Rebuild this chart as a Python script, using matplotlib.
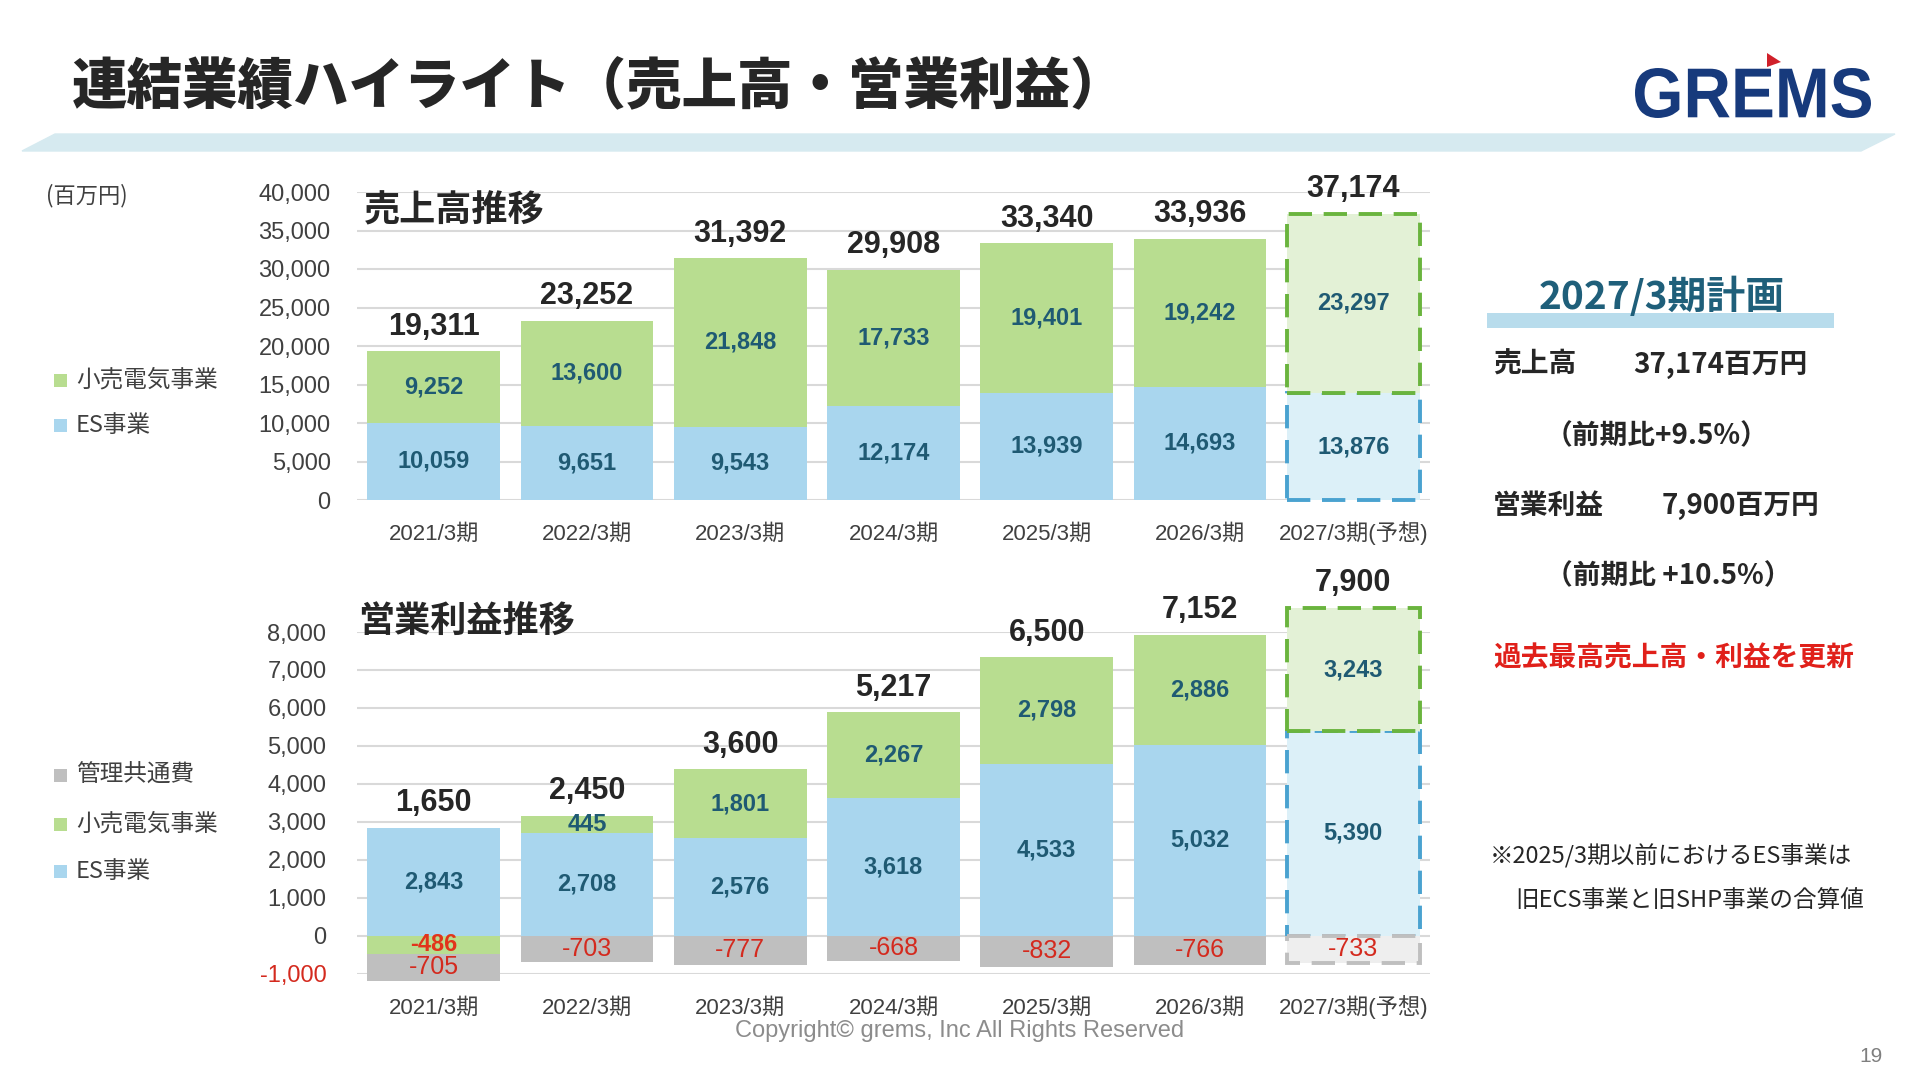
import matplotlib.pyplot as plt
from matplotlib.font_manager import FontProperties
from matplotlib.patches import PathPatch, Polygon, Rectangle
from matplotlib.textpath import TextPath
from matplotlib.ticker import FuncFormatter
from matplotlib.transforms import Affine2D

plt.rcParams['font.family'] = ['Liberation Sans', 'Noto Sans CJK JP', 'DejaVu Sans']
JP = ['Noto Sans CJK JP', 'DejaVu Sans']
NUM = ['Liberation Sans', 'Noto Sans CJK JP']

periods = ["2021/3期", "2022/3期", "2023/3期", "2024/3期", "2025/3期", "2026/3期", "2027/3期(予想)"]
forecast = [False, False, False, False, False, False, True]

# 売上高 (百万円)
sales_es = [10059, 9651, 9543, 12174, 13939, 14693, 13876]
sales_retail = [9252, 13600, 21848, 17733, 19401, 19242, 23297]
sales_total = [19311, 23252, 31392, 29908, 33340, 33936, 37174]

# 営業利益 (百万円)
op_es = [2843, 2708, 2576, 3618, 4533, 5032, 5390]
op_retail = [-486, 445, 1801, 2267, 2798, 2886, 3243]
op_admin = [-705, -703, -777, -668, -832, -766, -733]
op_total = [1650, 2450, 3600, 5217, 6500, 7152, 7900]

GREEN, BLUE, GRAY = '#b8dd90', '#a9d6ee', '#bfbfbf'
GREEN_F, BLUE_F, GRAY_F = '#e3f1d6', '#dcf0f8', '#eeeeee'
GREEN_E, BLUE_E, GRAY_E = '#6ab43e', '#4aa2d0', '#bfbfbf'
SEG_TXT = '#1f5a73'
NEG_TXT = '#d42a1e'
W = 0.865

fig = plt.figure(figsize=(19.2, 10.8), dpi=100)
PX = Affine2D().scale(1 / 1920, 1 / 1080) + fig.transFigure


def ptext(x, y, s, **kw):
    kw.setdefault('va', 'center')
    fig.text(x / 1920, 1 - y / 1080, s, **kw)


def draw_bars(ax, vals, bottoms, fill, fill_f, edge_f):
    for i, (v, b) in enumerate(zip(vals, bottoms)):
        if forecast[i]:
            ax.bar(i, v, W, bottom=b, color=fill_f, edgecolor=edge_f, linewidth=2.8,
                   linestyle=(0, (6, 3)), clip_on=False, zorder=3)
        else:
            ax.bar(i, v, W, bottom=b, color=fill, linewidth=0, clip_on=False, zorder=2)


def style_axis(ax, ticks, pad):
    for s in ax.spines.values():
        s.set_visible(False)
    ax.set_xlim(-0.5, 6.5)
    ax.set_yticks(ticks)
    ax.yaxis.set_major_formatter(FuncFormatter(lambda v, p: f"{int(v):,}"))
    ax.yaxis.grid(True, color='#d9d9d9', linewidth=1.5)
    ax.set_axisbelow(True)
    ax.tick_params(axis='y', length=0, pad=pad, labelsize=17, labelcolor='#404040')
    ax.tick_params(axis='x', length=0, pad=29)
    ax.set_xticks(range(len(periods)))
    ax.set_xticklabels(periods, fontsize=16, color='#404040', family=NUM, va='baseline')


# ---- 売上高推移 ----
ax1 = fig.add_axes([357 / 1920, 1 - 500 / 1080, 1073 / 1920, 308 / 1080])
ax1.set_ylim(0, 40000)
draw_bars(ax1, sales_es, [0] * 7, BLUE, BLUE_F, BLUE_E)
draw_bars(ax1, sales_retail, sales_es, GREEN, GREEN_F, GREEN_E)
style_axis(ax1, range(0, 40001, 5000), 19)
for i in range(7):
    ax1.text(i, sales_es[i] / 2, f"{sales_es[i]:,}", ha='center', va='center',
             fontsize=17, fontweight='bold', color=SEG_TXT, zorder=5)
    ax1.text(i, sales_es[i] + sales_retail[i] / 2, f"{sales_retail[i]:,}", ha='center',
             va='center', fontsize=17, fontweight='bold', color=SEG_TXT, zorder=5)
    ax1.annotate(f"{sales_total[i]:,}", (i, sales_es[i] + sales_retail[i]), xytext=(0, 7),
                 textcoords='offset points', ha='center', va='bottom', fontsize=22,
                 fontweight='bold', color='#262626', annotation_clip=False)

# ---- 営業利益推移 ----
ax2 = fig.add_axes([357 / 1920, 1 - 973.5 / 1080, 1073 / 1920, 341.5 / 1080])
ax2.set_ylim(-1000, 8000)
pos_retail_bottom = [e if r >= 0 else 0 for e, r in zip(op_es, op_retail)]
admin_bottom = [min(0, r) for r in op_retail]
draw_bars(ax2, op_es, [0] * 7, BLUE, BLUE_F, BLUE_E)
draw_bars(ax2, op_retail, pos_retail_bottom, GREEN, GREEN_F, GREEN_E)
draw_bars(ax2, op_admin, admin_bottom, GRAY, GRAY_F, GRAY_E)
style_axis(ax2, range(-1000, 8001, 1000), 22)
ax2.get_yticklabels()[0].set_color(NEG_TXT)
for i in range(7):
    ax2.text(i, op_es[i] / 2, f"{op_es[i]:,}", ha='center', va='center',
             fontsize=17, fontweight='bold', color=SEG_TXT, zorder=5)
    if op_retail[i] >= 0:
        ax2.text(i, pos_retail_bottom[i] + op_retail[i] / 2, f"{op_retail[i]:,}", ha='center',
                 va='center', fontsize=17, fontweight='bold', color=SEG_TXT, zorder=5)
    else:
        ax2.text(i, op_retail[i] / 2, f"{op_retail[i]:,}", ha='center', va='center',
                 fontsize=17, fontweight='bold', color='#e2341a', zorder=5)
    ax2.text(i, admin_bottom[i] + op_admin[i] / 2, f"{op_admin[i]:,}", ha='center',
             va='center', fontsize=18, color=NEG_TXT, zorder=5, clip_on=False)
    top = max(pos_retail_bottom[i] + max(op_retail[i], 0), op_es[i])
    ax2.annotate(f"{op_total[i]:,}", (i, top), xytext=(0, 7),
                 textcoords='offset points', ha='center', va='bottom', fontsize=22,
                 fontweight='bold', color='#262626', annotation_clip=False)

# ---- header ----
fig.add_artist(Polygon([[55, 946], [1895, 946], [1861, 929], [22, 929]], closed=True,
                       transform=PX, color='#d6eaf0', zorder=0))
ptext(72, 88, "連結業績ハイライト（売上高・営業利益）", fontsize=40, fontweight='black',
      color='#262626', family=JP)

logo = TextPath((0, 0), "GREMS", size=100,
                prop=FontProperties(family='Liberation Sans', weight='bold'))
bb = logo.get_extents()
logo_tr = Affine2D().translate(-bb.x0, -bb.y0).scale(236 / bb.width, 50 / bb.height) \
    .translate(1635, 1080 - 118)
fig.add_artist(PathPatch(logo, transform=logo_tr + PX, color='#173a7c', lw=0))
fig.add_artist(Polygon([[1767, 1027], [1767, 1013], [1781, 1018]], closed=True,
                       transform=PX, color='#d0202a', lw=0))

# ---- chart titles / legends ----
ptext(364, 211, "売上高推移", fontsize=26, fontweight='bold', color='#262626', family=JP)
ptext(358, 622, "営業利益推移", fontsize=26, fontweight='bold', color='#262626', family=JP)
ptext(46, 196, "(百万円)", fontsize=16, color='#404040', family=JP)

legend_rows = [(380, GREEN, "小売電気事業"), (425, BLUE, "ES事業"),
               (775, GRAY, "管理共通費"), (824, GREEN, "小売電気事業"), (871, BLUE, "ES事業")]
for y, c, label in legend_rows:
    fig.add_artist(Rectangle((54, 1080 - y - 7), 13, 13, transform=PX, color=c, lw=0))
    ptext(76, y, label, fontsize=17, color='#404040', family=JP)

# ---- right panel ----
fig.add_artist(Rectangle((1487, 1080 - 328), 347, 15, transform=PX, color='#b8dcec',
                         lw=0, zorder=0))
ptext(1662, 297, "2027/3期計画", fontsize=28, fontweight='bold', color='#1f5f7a',
      ha='center', family=JP)
ptext(1493, 365, "売上高", fontsize=20, fontweight='bold', color='#262626', family=JP)
ptext(1633, 365, "37,174百万円", fontsize=20, fontweight='bold', color='#262626', family=JP)
ptext(1545, 436, "（前期比+9.5%）", fontsize=20, fontweight='bold', color='#262626', family=JP)
ptext(1493, 506, "営業利益", fontsize=20, fontweight='bold', color='#262626', family=JP)
ptext(1662, 506, "7,900百万円", fontsize=20, fontweight='bold', color='#262626', family=JP)
ptext(1545, 576, "（前期比 +10.5%）", fontsize=20, fontweight='bold', color='#262626', family=JP)
ptext(1493, 658, "過去最高売上高・利益を更新", fontsize=20, fontweight='bold', color='#e0201a',
      family=JP)
ptext(1490, 856, "※2025/3期以前におけるES事業は", fontsize=17, color='#262626', family=JP)
ptext(1515, 901, "旧ECS事業と旧SHP事業の合算値", fontsize=17, color='#262626', family=JP)

# ---- footer ----
ptext(960, 1031, "Copyright© grems, Inc All Rights Reserved", fontsize=17, color='#8c8c8c',
      ha='center')
ptext(1871, 1057, "19", fontsize=15, color='#7f7f7f', ha='center')

fig.savefig("out.png", dpi=100)
